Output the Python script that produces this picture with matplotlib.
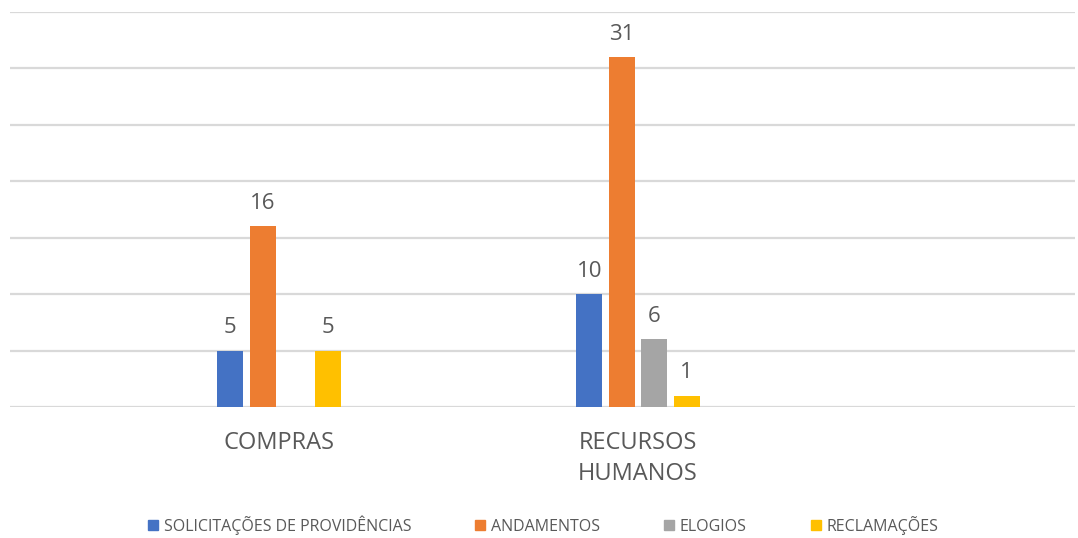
import matplotlib
matplotlib.use("Agg")
import matplotlib.pyplot as plt
import numpy as np
from matplotlib.patches import Patch

categories = ["COMPRAS", "RECURSOS\nHUMANOS", ""]
series_names = ["SOLICITAÇÕES DE PROVIDÊNCIAS", "ANDAMENTOS", "ELOGIOS", "RECLAMAÇÕES"]
solicitacoes = [5, 10, 0]
andamentos = [16, 31, 0]
elogios = [0, 6, 0]
reclamacoes = [5, 1, 0]
colors = ["#4472C4", "#ED7D31", "#A5A5A5", "#FFC000"]

series = [solicitacoes, andamentos, elogios, reclamacoes]

plt.rcParams['font.family'] = ['Open Sans', 'DejaVu Sans']
txt = "#595959"

W, H = 1078, 538
fig = plt.figure(figsize=(W/100, H/100), dpi=100)
ax = fig.add_axes([10/W, (H-407)/H, (1075-10)/W, (407-12)/H])

x = np.arange(len(categories))
step = 0.0905
bw = 0.0724
for i, (vals, c) in enumerate(zip(series, colors)):
    pos = x + (i - 1.5) * step
    bars = ax.bar(pos, vals, width=bw, color=c, zorder=3)
    for b, v in zip(bars, vals):
        if v:
            ax.annotate(str(v), (b.get_x() + b.get_width()/2, v),
                        xytext=(0, 9), textcoords="offset points",
                        ha="center", va="bottom", fontsize=16, color=txt)

ax.set_xlim(-0.749, 2.217)
ax.set_ylim(0, 35)
ax.set_yticks(np.arange(0, 36, 5))
ax.yaxis.grid(True, color="#D9D9D9", linewidth=1.6, zorder=0)
ax.tick_params(axis="y", left=False, labelleft=False)
ax.tick_params(axis="x", length=0, pad=17)
ax.set_xticks(x)
ax.set_xticklabels(categories, fontsize=17, color=txt, linespacing=1.4, va="top")
for s in ax.spines.values():
    s.set_visible(False)

handles = [Patch(color=c) for c in colors]
leg = fig.legend(handles, series_names, loc="center", bbox_to_anchor=(543/W, 1 - 525/H),
                 ncol=4, frameon=False, fontsize=11.5, labelcolor=txt,
                 handlelength=0.65, handleheight=0.65, handletextpad=0.35,
                 columnspacing=4.0)

fig.savefig("out.png", dpi=100, facecolor="white")
